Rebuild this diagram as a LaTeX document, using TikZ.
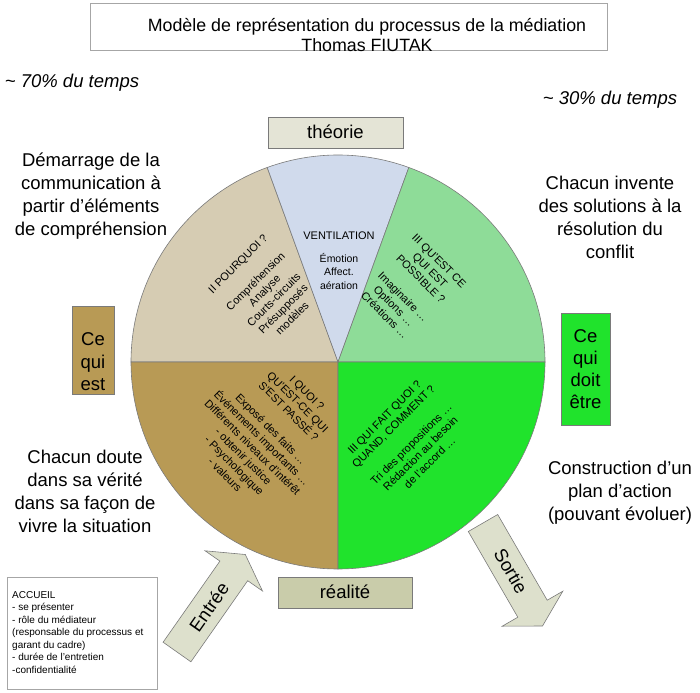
\documentclass[tikz,border=0pt]{standalone}
\usepackage{fontspec}
\setmainfont{Liberation Sans}
\definecolor{beigeTL}{HTML}{D6CCB3}
\definecolor{blueT}{HTML}{D0DAEC}
\definecolor{lgreen}{HTML}{8EDC98}
\definecolor{brownBL}{HTML}{B89A55}
\definecolor{greenBR}{HTML}{20E32C}
\definecolor{theoBox}{HTML}{E4E4D6}
\definecolor{realBox}{HTML}{C9CCAA}
\definecolor{arrFill}{HTML}{DDE0CC}
\definecolor{edge}{HTML}{7A7A7A}
\begin{document}
\begin{tikzpicture}[x=1pt,y=-1pt,
  big/.style={font=\fontsize{18.5}{23}\selectfont, align=center, inner sep=0pt},
  sect/.style={font=\fontsize{11}{13}\selectfont, align=center, inner sep=0pt},
  slice/.style={draw=edge, line width=0.6pt},
  labbox/.style={draw=edge, line width=0.6pt},
  blockarrow/.style={draw=edge, fill=arrFill, line width=0.6pt, line join=miter}
]
\useasboundingbox (0,0) rectangle (700,692);

% title
\draw[draw=gray!70, line width=0.8pt] (90,3) rectangle (607,50);
\node[font=\fontsize{17.8}{20}\selectfont, align=center, inner sep=0pt] (title) at (367,35)
  {Modèle de représentation du processus de la médiation\\ Thomas FIUTAK};

% percentages
\node[big, font=\fontsize{18.5}{23}\selectfont\itshape] (p70) at (72,83) {\textasciitilde{} 70\% du temps};
\node[big, font=\fontsize{18.5}{23}\selectfont\itshape] (p30) at (610,100) {\textasciitilde{} 30\% du temps};

% pie
\coordinate (c) at (338,362);
\path[slice, fill=beigeTL] (c) -- ++(-180:207) arc[start angle=-180, end angle=-110, radius=207] -- cycle;
\path[slice, fill=blueT] (c) -- ++(-110:207) arc[start angle=-110, end angle=-70, radius=207] -- cycle;
\path[slice, fill=lgreen] (c) -- ++(-70:207) arc[start angle=-70, end angle=0, radius=207] -- cycle;
\path[slice, fill=brownBL] (c) -- ++(180:207) arc[start angle=180, end angle=90, radius=207] -- cycle;
\path[slice, fill=greenBR] (c) -- ++(90:207) arc[start angle=90, end angle=0, radius=207] -- cycle;

% sector texts
\node[sect] (vent) at (339,236) {VENTILATION};
\node[sect, font=\fontsize{10.5}{13.5}\selectfont] (emo) at (339,271) {Émotion\\ Affect.\\ aération};
\node[sect, rotate=45] (pourquoi) at (265,291)
  {II POURQUOI ?\\[12pt] Compréhension\\ Analyse\\ Courts-circuits\\ Présupposés\\ modèles};
\node[sect, rotate=-45] (possible) at (412,288)
  {III QU’EST CE\\ QUI EST\\ POSSIBLE ?\\[12pt] Imaginaire …\\ Options …\\ Créations …};
\node[sect, rotate=-45] (quoi) at (266,434)
  {I QUOI ?\\ QU’EST-CE QUI\\ S’EST PASSÉ ?\\[12pt] Exposé des faits …\\ Événements importants …\\ Différents niveaux d’intérêt\\ - obtenir justice\\ - Psychologique\\ - valeurs};
\node[sect, rotate=45] (quifait) at (407,440)
  {III QUI FAIT QUOI ?\\ QUAND, COMMENT ?\\[12pt] Tri des propositions …\\ Rédaction au besoin\\ de l’accord …};

% boxes
\draw[labbox, fill=theoBox] (268,117) rectangle (403,148);
\node[big] (theorie) at (335.5,132) {théorie};
\draw[labbox, fill=realBox] (278,577) rectangle (412,608);
\node[big] (realite) at (345,592) {réalité};
\draw[labbox, fill=brownBL] (72,306) rectangle (114,394);
\node[big, font=\fontsize{18.5}{22.5}\selectfont] (cqe) at (93,362) {Ce\\ qui\\ est};
\draw[labbox, fill=greenBR] (561,313) rectangle (610,425);
\node[big, font=\fontsize{18.5}{22}\selectfont] (cqde) at (585.5,369) {Ce\\ qui\\ doit\\ être};

% side texts
\node[big] (demarrage) at (91,196) {Démarrage de la\\ communication à\\ partir d’éléments\\ de compréhension};
\node[big] (invente) at (610,217) {Chacun invente\\ des solutions à la\\ résolution du\\ conflit};
\node[big] (doute) at (85,491) {Chacun doute\\ dans sa vérité\\ dans sa façon de\\ vivre la situation};
\node[big] (construction) at (620,493) {Construction d’un\\ plan d’action\\ (pouvant évoluer)};

% Entrée arrow
\path[blockarrow] (163.1,642.2) -- (219.9,561.1) -- (205.1,550.8) -- (245.3,554.5)
  -- (262.5,591.0) -- (247.7,580.7) -- (190.9,661.8) -- cycle;
\node[big, rotate=55] (entree) at (209,607) {Entrée};

% Sortie arrow
\path[blockarrow] (468.3,531.5) -- (497.7,514.5) -- (547.2,600.2) -- (562.8,591.2)
  -- (542.5,626.0) -- (502.2,626.2) -- (517.8,617.2) -- cycle;
\node[big, rotate=-60] (sortie) at (511,571) {Sortie};

% accueil
\draw[draw=gray!70, line width=0.8pt] (7,577) rectangle (157,689);
\node[font=\fontsize{10}{12.5}\selectfont, align=left, inner sep=0pt, anchor=north west] (accueil) at (12,591)
  {ACCUEIL\\ - se présenter\\ - rôle du médiateur\\ (responsable du processus et\\ garant du cadre)\\ - durée de l’entretien\\ -confidentialité};
\end{tikzpicture}
\end{document}
